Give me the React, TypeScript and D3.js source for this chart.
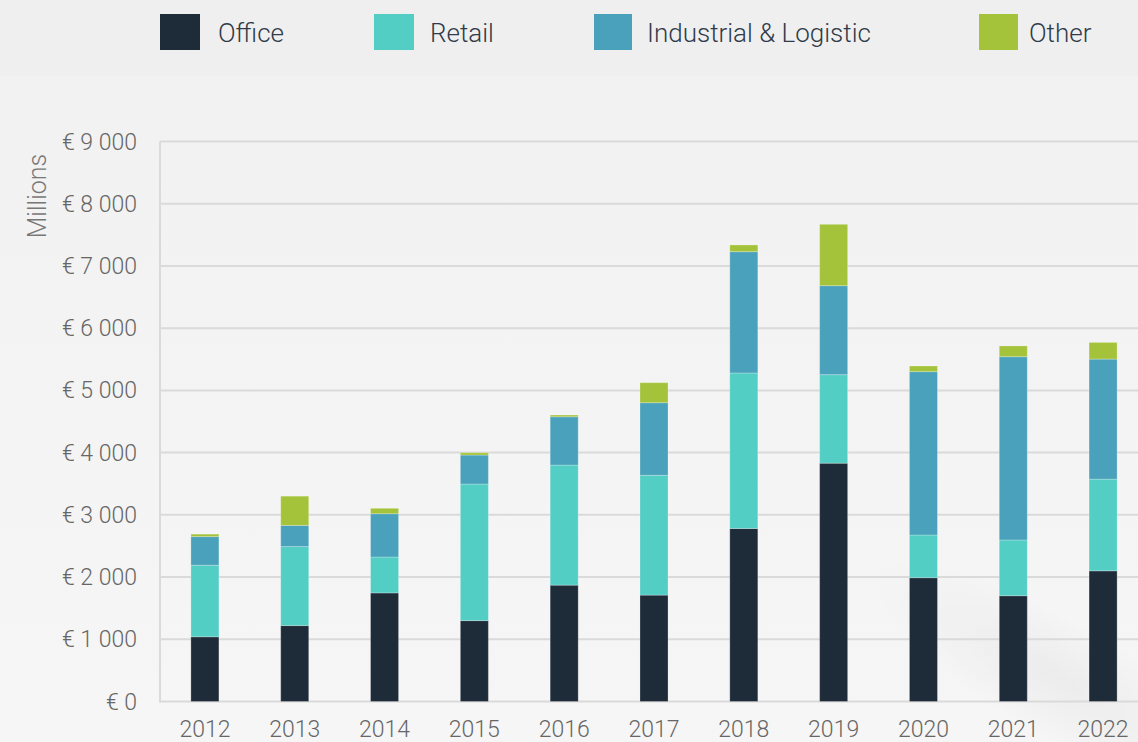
import React from "react";
import * as d3 from "d3";

const years = ["2012", "2013", "2014", "2015", "2016", "2017", "2018", "2019", "2020", "2021", "2022"];
const office = [1040, 1220, 1745, 1300, 1870, 1710, 2780, 3830, 1990, 1700, 2100];
const retail = [1150, 1270, 577, 2195, 1930, 1925, 2500, 1423, 686, 896, 1474];
const industrial = [460, 340, 696, 466, 776, 1167, 1949, 1430, 2625, 2946, 1929];
const other = [40, 470, 87, 37, 28, 322, 108, 986, 91, 172, 268];
const seriesNames = ["Office", "Retail", "Industrial & Logistic", "Other"];
const seriesColors = ["#1e2b39", "#52cec5", "#4aa1bb", "#a5c33a"];
const yTicks = [0, 1000, 2000, 3000, 4000, 5000, 6000, 7000, 8000, 9000];

const W = 1138;
const H = 742;

function fmt(v: number): string {
  if (v === 0) return "€ 0";
  const th = Math.floor(v / 1000);
  const rest = String(v % 1000).padStart(3, "0");
  return `€ ${th} ${rest}`;
}

export default function App() {
  const keys = ["office", "retail", "industrial", "other"];
  const rows = years.map((y, i) => ({
    year: y,
    office: office[i],
    retail: retail[i],
    industrial: industrial[i],
    other: other[i],
  }));
  const stack = d3.stack<any>().keys(keys);
  const layers = stack(rows);

  const x = d3.scaleBand<string>().domain(years).range([160, 1148]).paddingInner(0.688).paddingOuter(0.344);
  const y = d3.scaleLinear().domain([0, 9000]).range([701.5, 141.5]);

  const font = "Roboto, 'Open Sans', sans-serif";
  const legendX = [160, 374, 594, 979];
  const legendW = [40, 40, 38, 39];
  const legendTextX = [218, 430, 647, 1029];

  return (
    <div style={{ position: "absolute", left: 0, top: 0, width: W, height: H, overflow: "hidden" }}>
      <svg width={W} height={H} style={{ display: "block" }}>
        <defs>
          <linearGradient id="bg" x1="0" y1="0" x2="0" y2="1">
            <stop offset="0" stopColor="#f1f1f1" />
            <stop offset="1" stopColor="#f6f6f6" />
          </linearGradient>
          <radialGradient id="shadow" cx="0.5" cy="0.5" r="0.5">
            <stop offset="0" stopColor="#000" stopOpacity="0.04" />
            <stop offset="1" stopColor="#000" stopOpacity="0" />
          </radialGradient>
        </defs>
        <rect x={0} y={0} width={W} height={H} fill="url(#bg)" />
        <rect x={0} y={0} width={W} height={76} fill="#efefef" />
        <ellipse
          cx={1060}
          cy={680}
          rx={220}
          ry={60}
          transform="rotate(30 1060 680)"
          fill="url(#shadow)"
        />

        {/* legend */}
        {seriesNames.map((n, i) => (
          <g key={n}>
            <rect x={legendX[i]} y={14} width={legendW[i]} height={36} fill={seriesColors[i]} />
            <text
              x={legendTextX[i]}
              y={42}
              fontFamily={font}
              fontWeight={300}
              fontSize={26}
              fill="#2f3b4a"
            >
              {n}
            </text>
          </g>
        ))}

        {/* gridlines */}
        {yTicks.map((t) => (
          <line key={t} x1={160} x2={W} y1={y(t)} y2={y(t)} stroke="#dadada" strokeWidth={2} />
        ))}
        <line x1={160} x2={160} y1={y(9000)} y2={y(0) + 1} stroke="#dadada" strokeWidth={2} />

        {/* y labels */}
        {yTicks.map((t) => (
          <text
            key={t}
            x={137}
            y={y(t) + 8}
            textAnchor="end"
            fontFamily={font}
            fontWeight={300}
            fontSize={23}
            fill="#666"
          >
            {fmt(t)}
          </text>
        ))}
        <text
          transform={`translate(46,196) rotate(-90)`}
          textAnchor="middle"
          fontFamily={font}
          fontWeight={300}
          fontSize={25}
          fill="#777"
        >
          Millions
        </text>

        {/* bars */}
        {layers.map((layer, li) => (
          <g key={layer.key}>
            {layer.map((d: any, i: number) => (
              <rect
                key={i}
                x={x(years[i])}
                y={y(d[1])}
                width={x.bandwidth()}
                height={Math.max(0, y(d[0]) - y(d[1]))}
                fill={seriesColors[li]}
                stroke="rgba(255,255,255,0.25)"
                strokeWidth={1}
              />
            ))}
          </g>
        ))}

        {/* x labels */}
        {years.map((yr) => (
          <text
            key={yr}
            x={(x(yr) as number) + x.bandwidth() / 2}
            y={737}
            textAnchor="middle"
            fontFamily={font}
            fontWeight={300}
            fontSize={23}
            fill="#666"
          >
            {yr}
          </text>
        ))}
      </svg>
    </div>
  );
}
